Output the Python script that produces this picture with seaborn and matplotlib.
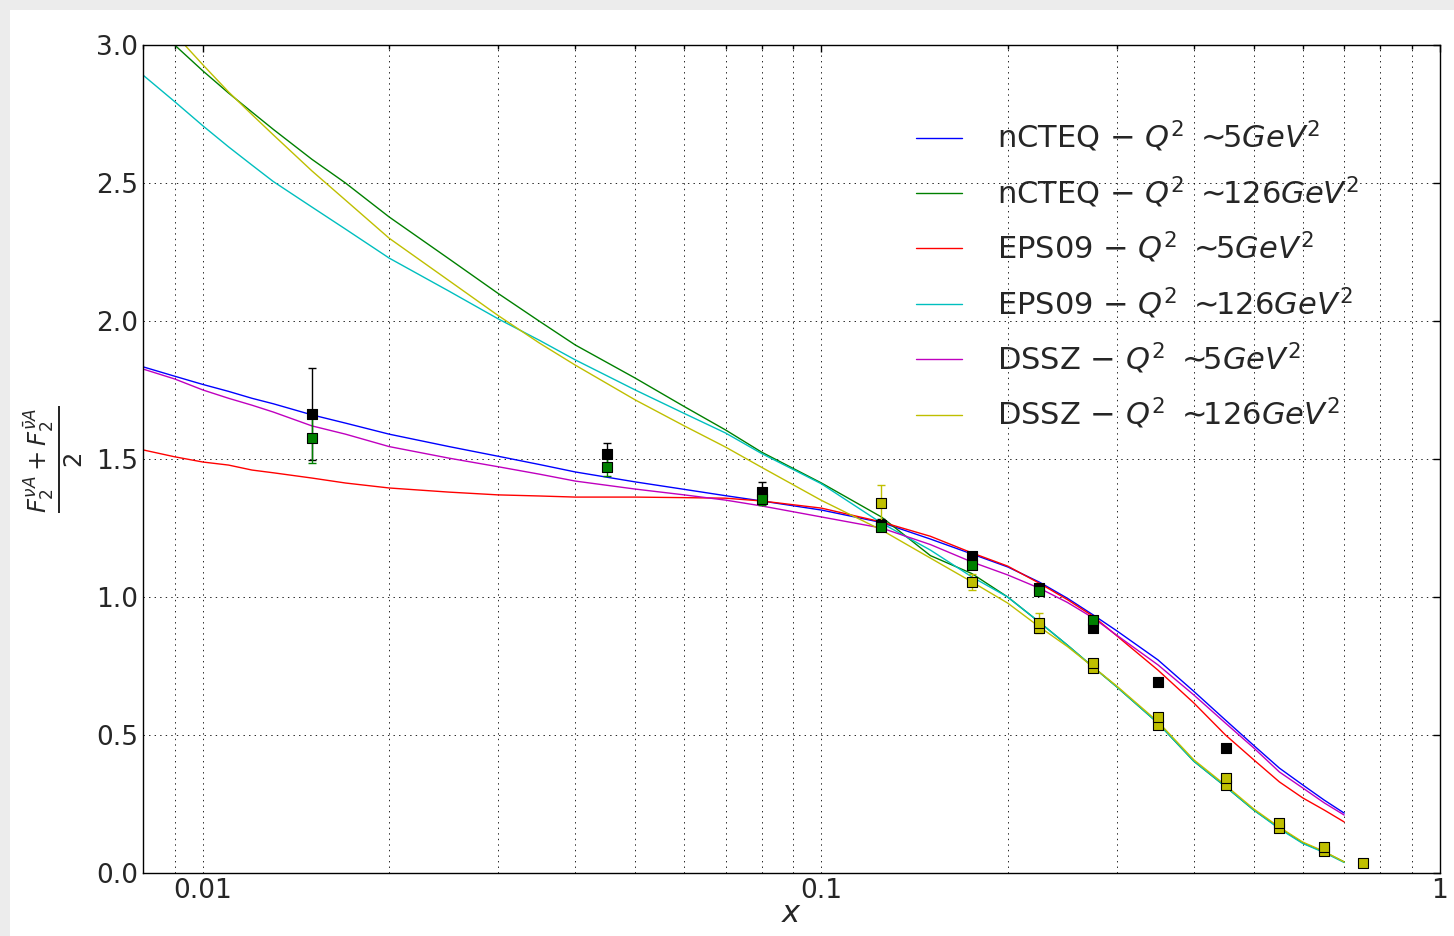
import numpy as np
import pandas as pd
import seaborn as sns
import matplotlib
matplotlib.use("Agg")
import matplotlib.pyplot as plt
from matplotlib.patches import Rectangle
from matplotlib.ticker import FixedLocator, FixedFormatter, LogLocator, NullFormatter

# model curves
x_grid = [0.008, 0.009, 0.01, 0.011, 0.012, 0.013, 0.015, 0.017, 0.02, 0.025, 0.03,
          0.035, 0.04, 0.05, 0.06, 0.07, 0.08, 0.1, 0.125, 0.15, 0.175, 0.2, 0.225,
          0.25, 0.275, 0.3, 0.35, 0.4, 0.45, 0.5, 0.55, 0.6, 0.65, 0.7]

ncteq_5 = [1.834, 1.80, 1.77, 1.745, 1.72, 1.70, 1.66, 1.63, 1.59, 1.545, 1.51,
           1.48, 1.453, 1.417, 1.39, 1.367, 1.348, 1.315, 1.27, 1.21, 1.156, 1.109, 1.054,
           0.995, 0.935, 0.878, 0.772, 0.658, 0.554, 0.462, 0.38, 0.319, 0.264, 0.217]
ncteq_126 = [3.10, 3.0, 2.906, 2.826, 2.757, 2.694, 2.586, 2.50, 2.377, 2.225, 2.10,
             1.999, 1.913, 1.793, 1.69, 1.605, 1.525, 1.413, 1.29, 1.15, 1.085, 1.0, 0.909,
             0.825, 0.746, 0.675, 0.543, 0.405, 0.313, 0.228, 0.163, 0.109, 0.076, 0.04]
eps09_5 = [1.533, 1.508, 1.489, 1.478, 1.46, 1.45, 1.431, 1.413, 1.395, 1.38, 1.37,
           1.366, 1.362, 1.362, 1.36, 1.358, 1.348, 1.322, 1.272, 1.22, 1.16, 1.112, 1.05,
           0.99, 0.93, 0.86, 0.735, 0.616, 0.50, 0.41, 0.33, 0.272, 0.228, 0.185]
eps09_126 = [2.891, 2.795, 2.707, 2.631, 2.565, 2.505, 2.413, 2.333, 2.228, 2.108, 2.008,
             1.93, 1.859, 1.75, 1.665, 1.594, 1.52, 1.41, 1.268, 1.17, 1.073, 1.0, 0.909,
             0.825, 0.746, 0.675, 0.543, 0.405, 0.313, 0.228, 0.16, 0.107, 0.074, 0.038]
dssz_5 = [1.826, 1.79, 1.75, 1.72, 1.695, 1.67, 1.62, 1.59, 1.545, 1.503, 1.472,
          1.445, 1.42, 1.391, 1.37, 1.351, 1.33, 1.29, 1.25, 1.19, 1.127, 1.08, 1.032,
          0.98, 0.924, 0.862, 0.754, 0.645, 0.543, 0.453, 0.366, 0.308, 0.254, 0.21]
dssz_126 = [3.16, 3.04, 2.928, 2.83, 2.748, 2.674, 2.544, 2.438, 2.30, 2.146, 2.02,
            1.92, 1.84, 1.714, 1.62, 1.543, 1.47, 1.35, 1.243, 1.141, 1.055, 0.978, 0.892,
            0.82, 0.746, 0.678, 0.548, 0.41, 0.318, 0.232, 0.166, 0.112, 0.078, 0.04]

labels = [r"nCTEQ $-$ $Q^2$ $\sim\!\!5GeV^2$",
          r"nCTEQ $-$ $Q^2$ $\sim\!\!126GeV^2$",
          r"EPS09 $-$ $Q^2$ $\sim\!\!5GeV^2$",
          r"EPS09 $-$ $Q^2$ $\sim\!\!126GeV^2$",
          r"DSSZ $-$ $Q^2$ $\sim\!\!5GeV^2$",
          r"DSSZ $-$ $Q^2$ $\sim\!\!126GeV^2$"]
line_colors = ["b", "g", "r", "c", "m", "y"]

# data points
black_x = [0.015, 0.045, 0.08, 0.125, 0.175, 0.225, 0.275, 0.35, 0.45]
black_y = [1.663, 1.518, 1.382, 1.261, 1.149, 1.032, 0.888, 0.692, 0.453]
black_err = [0.165, 0.041, 0.036, 0.022, 0.0, 0.0, 0.0, 0.0, 0.0]

green_x = [0.015, 0.045, 0.08, 0.125, 0.175, 0.225, 0.275]
green_y = [1.576, 1.472, 1.355, 1.252, 1.116, 1.02, 0.917]
green_err = [0.09, 0.034, 0.022, 0.0, 0.0, 0.0, 0.0]

yellow_x = [0.125, 0.175, 0.225, 0.275, 0.35, 0.45, 0.55, 0.65, 0.75]
yellow_y = [1.34, 1.055, 0.906, 0.761, 0.565, 0.344, 0.18, 0.094, 0.036]
yellow_err = [0.066, 0.03, 0.035, 0.0, 0.0, 0.0, 0.0, 0.0, 0.0]

yellow2_x = [0.225, 0.275, 0.35, 0.45, 0.55, 0.65]
yellow2_y = [0.888, 0.743, 0.536, 0.319, 0.163, 0.08]

curves = pd.concat([
    pd.DataFrame({"x": x_grid, "F2": vals, "model": lab})
    for vals, lab in zip([ncteq_5, ncteq_126, eps09_5, eps09_126, dssz_5, dssz_126], labels)
])

sns.set_style("white")
plt.rcParams["font.family"] = ["DejaVu Sans"]
plt.rcParams["lines.scale_dashes"] = False

fig = plt.figure(figsize=(14.54, 9.36), dpi=100, facecolor="#ececec")
fig.add_artist(Rectangle((10 / 1454, 0), 1, 1 - 10 / 936, transform=fig.transFigure,
                         facecolor="white", edgecolor="none", zorder=-10))
ax = fig.add_axes([143 / 1454, 1 - 873 / 936, 1297 / 1454, 828 / 936])

sns.lineplot(data=curves, x="x", y="F2", hue="model", hue_order=labels,
             palette=dict(zip(labels, line_colors)), estimator=None, sort=False,
             lw=1, ax=ax, zorder=2)

points = [
    (black_x, black_y, black_err, "k"),
    (green_x, green_y, green_err, "g"),
    (yellow_x, yellow_y, yellow_err, "y"),
]
for px, py, pe, col in points:
    ax.errorbar(px, py, yerr=pe, fmt="none", ecolor=col, elinewidth=1, capsize=3.2, zorder=3)
for px, py, col in [(yellow2_x, yellow2_y, "y")] + [(p[0], p[1], p[3]) for p in points]:
    sns.scatterplot(x=px, y=py, marker="s", s=60, color=col, edgecolor="k",
                    linewidth=0.8, ax=ax, zorder=4, legend=False)

ax.set_xscale("log")
ax.set_xlim(0.008, 1)
ax.set_ylim(0, 3)
ax.xaxis.set_major_locator(FixedLocator([0.01, 0.1, 1]))
ax.xaxis.set_major_formatter(FixedFormatter(["0.01", "0.1", "1"]))
ax.xaxis.set_minor_locator(LogLocator(base=10, subs=np.arange(2, 10)))
ax.xaxis.set_minor_formatter(NullFormatter())
ax.set_yticks([0, 0.5, 1.0, 1.5, 2.0, 2.5, 3.0])
ax.set_yticklabels(["0.0", "0.5", "1.0", "1.5", "2.0", "2.5", "3.0"])
ax.tick_params(which="both", direction="in", top=True, right=True, labelsize=19,
               color="k", width=1)
ax.tick_params(which="major", length=5)
ax.tick_params(which="minor", length=3)

ax.grid(True, which="major", axis="both", color="k", linestyle=(0, (1, 3)), linewidth=0.6)
ax.grid(True, which="minor", axis="x", color="k", linestyle=(0, (1, 3)), linewidth=0.6)
for sp in ax.spines.values():
    sp.set_color("k")
    sp.set_linewidth(1)

ax.set_xlabel(r"$x$", fontsize=22)
ax.set_ylabel(r"$\frac{F_2^{\nu A}+F_2^{\bar{\nu} A}}{2}$", fontsize=25)
ax.xaxis.set_label_coords(0.5, -0.031)
ax.yaxis.set_label_coords(-0.045, 0.5)

sns.move_legend(ax, "upper left", bbox_to_anchor=((916 - 143) / 1297, (873 - 119) / 828),
                frameon=False, title=None, fontsize=22, handlelength=1.5,
                handletextpad=1.14, labelspacing=0.65, borderpad=0, borderaxespad=0)

fig.savefig("out.png", dpi=100, facecolor=fig.get_facecolor())
